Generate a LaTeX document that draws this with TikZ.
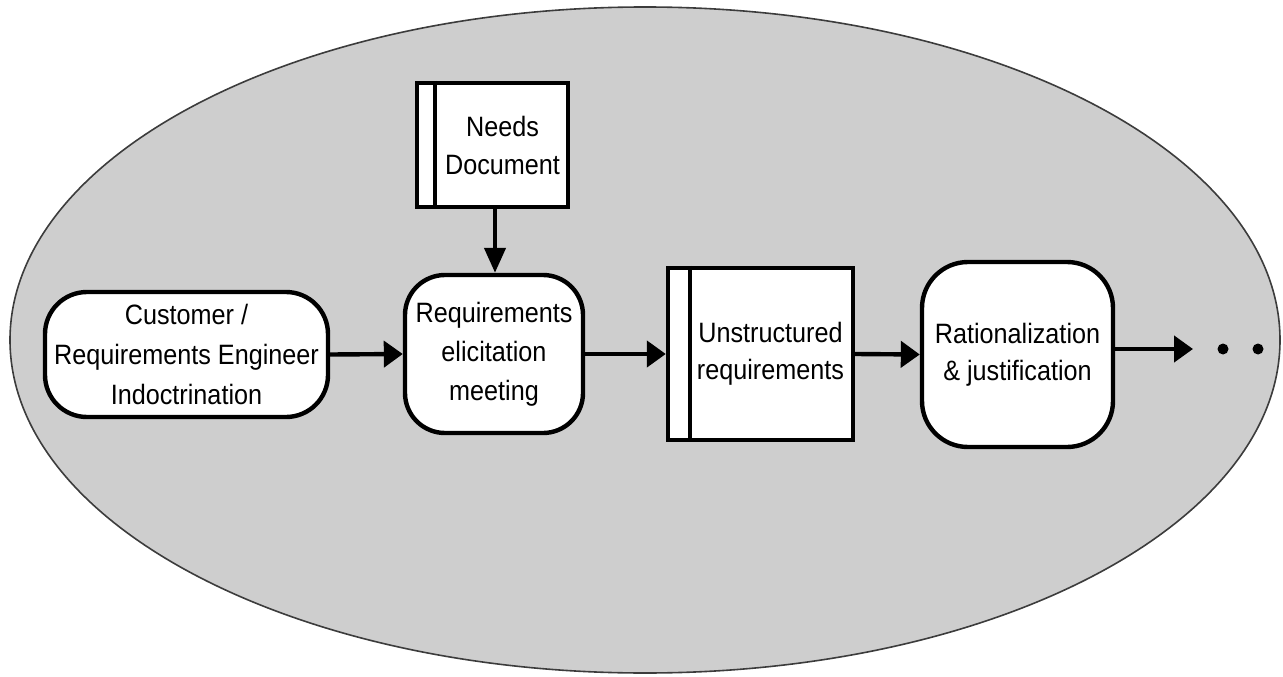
\documentclass[tikz,border=0pt]{standalone}
\usepackage{fontspec}
\setmainfont{Liberation Sans}[FakeStretch=0.9]
\usetikzlibrary{arrows.meta}
\definecolor{panel}{RGB}{206,206,206}
\definecolor{rim}{RGB}{60,60,60}
\tikzset{
  procbox/.style={draw=black, fill=white, line width=4.4pt, rounded corners=#1,
    align=center, inner sep=0pt, font=\fontsize{28}{39}\selectfont},
  procbox/.default=40pt,
  storebox/.style={draw=black, fill=white, line width=4.4pt,
    align=center, inner sep=0pt, font=\fontsize{28}{38}\selectfont},
  flow/.style={line width=4.4pt, -{Triangle[length=19pt,width=26pt]}},
  dropflow/.style={line width=4.4pt, -{Triangle[length=25pt,width=21pt]}},
  dot/.style={circle, fill=black, inner sep=0pt, minimum size=11pt}
}
\begin{document}
\begin{tikzpicture}[x=1pt, y=-1pt]
  \useasboundingbox (0,0) rectangle (1283,677);
  % surrounding region
  \draw[rim, fill=panel, line width=1.6pt] (645,340) ellipse [x radius=635, y radius=333];

  % process steps
  \node[procbox=42pt, minimum width=283pt, minimum height=125pt,
        font=\fontsize{28}{40}\selectfont] (cust) at (186.5,354.5)
    {Customer /\\Requirements Engineer\\Indoctrination};
  \node[procbox=40pt, minimum width=178pt, minimum height=158pt] (elic) at (494,354)
    {Requirements\\elicitation\\meeting};
  \node[storebox, minimum width=151pt, minimum height=124pt] (needs) at (492.5,145)
    {\hspace*{20pt}Needs\\\hspace*{20pt}Document};
  \draw[line width=4.4pt] ([xshift=20pt]needs.north west) -- ([xshift=20pt]needs.south west);
  \node[storebox, minimum width=185pt, minimum height=172pt,
        font=\fontsize{28}{37}\selectfont] (unst) at (760.5,354)
    {\hspace*{20pt}Unstructured\\\hspace*{20pt}requirements};
  \draw[line width=4.4pt] ([xshift=24pt]unst.north west) -- ([xshift=24pt]unst.south west);
  \node[procbox=46pt, minimum width=191pt, minimum height=185pt,
        font=\fontsize{28}{37}\selectfont] (rat) at (1017.5,354.5)
    {Rationalization\\\& justification};

  % continuation
  \coordinate (cont) at (1193,349);
  \node[dot] (d1) at (1223,349) {};
  \node[dot] (d2) at (1258,349) {};

  % flows
  \draw[dropflow] (needs.south -| 495,0) -- (elic.north -| 495,0);
  \draw[flow] (cust.east) -- (elic.west);
  \draw[flow] (elic.east) -- (unst.west);
  \draw[flow] (unst.east) -- (rat.west);
  \draw[flow] (rat.east |- cont) -- (cont);
\end{tikzpicture}
\end{document}
